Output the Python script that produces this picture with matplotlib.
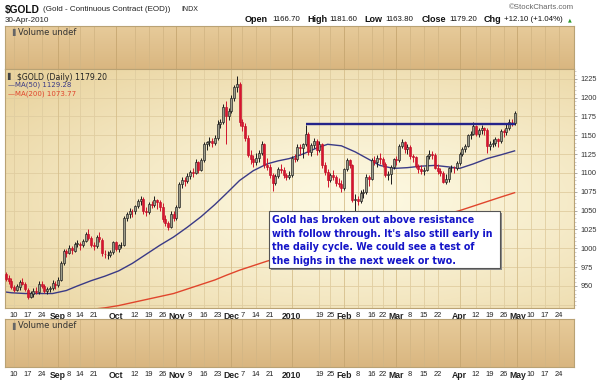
import numpy as np
import pandas as pd
import matplotlib
matplotlib.use("Agg")
import matplotlib.pyplot as plt
from matplotlib.patches import Rectangle

# ---------------- data ----------------
holidays = ["2009-09-07", "2009-11-26", "2009-12-25", "2010-01-01",
            "2010-01-18", "2010-02-15", "2010-04-02", "2010-05-31"]
first_day = "2009-08-05"
last_day = "2010-04-30"

opens = [966, 960, 957, 948, 945, 949, 955, 953, 945, 936,
         940, 944, 942, 953, 950, 944, 946, 947, 953, 951,
         958, 980, 996, 994, 1000, 997, 1006, 1006, 1004, 1010,
         1019, 1014, 1004, 1003, 1015, 1011, 993, 991, 991, 995,
         1008, 999, 1004, 1005, 1040, 1045, 1050, 1049, 1056, 1063,
         1066, 1050, 1048, 1059, 1057, 1064, 1061, 1055, 1039, 1033,
         1028, 1046, 1040, 1055, 1085, 1090, 1089, 1096, 1101, 1100,
         1114, 1104, 1117, 1138, 1141, 1142, 1140, 1146, 1165, 1168,
         1187, 1176, 1182, 1200, 1214, 1218, 1168, 1162, 1146, 1124,
         1118, 1114, 1120, 1127, 1138, 1110, 1108, 1097, 1087, 1096,
         1105, 1104, 1097, 1094, 1097, 1120, 1118, 1135, 1133, 1138,
         1152, 1128, 1137, 1143, 1130, 1138, 1110, 1101, 1090, 1097,
         1095, 1086, 1085, 1080, 1105, 1117, 1110, 1064, 1066, 1063,
         1073, 1075, 1095, 1092, 1117, 1115, 1120, 1118, 1112, 1097,
         1098, 1108, 1118, 1117, 1136, 1141, 1132, 1135, 1122, 1121,
         1109, 1105, 1102, 1104, 1122, 1125, 1124, 1107, 1103, 1100,
         1088, 1092, 1106, 1107, 1106, 1113, 1125, 1132, 1136, 1150,
         1152, 1162, 1152, 1157, 1159, 1157, 1136, 1138, 1140, 1145,
         1142, 1155, 1154, 1160, 1168, 1166.7]
highs = [969, 965, 960, 951, 952, 958, 961, 955, 947, 944,
         947, 949, 956, 957, 952, 948, 950, 958, 957, 962,
         983, 999, 999, 1004, 1003, 1009, 1011, 1009, 1013, 1022,
         1025, 1016, 1009, 1018, 1021, 1014, 998, 996, 998, 1010,
         1010, 1006, 1008, 1043, 1048, 1053, 1052, 1058, 1066, 1070,
         1068, 1055, 1062, 1063, 1070, 1066, 1064, 1060, 1044, 1036,
         1049, 1050, 1058, 1088, 1095, 1094, 1100, 1104, 1106, 1118,
         1116, 1120, 1141, 1143, 1148, 1146, 1150, 1170, 1172, 1191,
         1195, 1186, 1203, 1217, 1228, 1221, 1172, 1166, 1150, 1131,
         1124, 1126, 1131, 1143, 1140, 1120, 1112, 1100, 1099, 1108,
         1112, 1108, 1100, 1103, 1122, 1125, 1138, 1138, 1140, 1163,
         1154, 1140, 1146, 1145, 1142, 1140, 1114, 1105, 1100, 1104,
         1097, 1093, 1090, 1107, 1120, 1119, 1112, 1072, 1070, 1078,
         1079, 1098, 1097, 1120, 1122, 1124, 1126, 1121, 1114, 1102,
         1110, 1120, 1122, 1139, 1145, 1143, 1138, 1137, 1125, 1123,
         1112, 1110, 1108, 1124, 1130, 1129, 1126, 1112, 1106, 1102,
         1099, 1108, 1110, 1109, 1116, 1128, 1135, 1139, 1152, 1155,
         1167, 1164, 1160, 1163, 1161, 1159, 1142, 1145, 1148, 1147,
         1158, 1158, 1165, 1171, 1172, 1181.6]
lows = [957, 953, 946, 942, 943, 945, 951, 943, 933, 934,
        935, 940, 940, 947, 941, 940, 942, 945, 946, 948,
        956, 978, 988, 992, 993, 995, 1002, 998, 1002, 1008,
        1011, 1002, 998, 1001, 1008, 990, 987, 986, 988, 992,
        996, 995, 1000, 1003, 1036, 1040, 1041, 1046, 1053, 1058,
        1046, 1043, 1046, 1053, 1055, 1052, 1050, 1035, 1030, 1024,
        1027, 1036, 1038, 1053, 1080, 1083, 1086, 1092, 1095, 1098,
        1100, 1102, 1115, 1130, 1136, 1134, 1137, 1144, 1159, 1165,
        1138, 1170, 1180, 1196, 1208, 1162, 1155, 1142, 1121, 1112,
        1108, 1110, 1115, 1124, 1106, 1104, 1093, 1076, 1084, 1093,
        1100, 1093, 1090, 1092, 1095, 1114, 1116, 1124, 1120, 1136,
        1124, 1123, 1133, 1124, 1128, 1106, 1097, 1082, 1088, 1090,
        1083, 1081, 1075, 1078, 1102, 1106, 1062, 1048, 1057, 1060,
        1067, 1072, 1083, 1090, 1110, 1108, 1112, 1108, 1094, 1090,
        1085, 1105, 1111, 1115, 1133, 1127, 1125, 1119, 1115, 1106,
        1100, 1098, 1097, 1102, 1118, 1118, 1105, 1098, 1096, 1086,
        1085, 1088, 1101, 1100, 1104, 1111, 1122, 1128, 1134, 1145,
        1150, 1149, 1148, 1152, 1150, 1127, 1131, 1134, 1136, 1135,
        1140, 1148, 1150, 1157, 1162, 1163.8]
closes = [959, 956, 948, 945, 950, 955, 953, 946, 936, 941,
          944, 942, 953, 950, 944, 946, 947, 954, 951, 958,
          980, 996, 994, 1000, 998, 1006, 1007, 1004, 1010, 1019,
          1014, 1005, 1003, 1015, 1012, 994, 992, 991, 995, 1008,
          999, 1004, 1005, 1040, 1045, 1050, 1049, 1056, 1063, 1066,
          1050, 1048, 1059, 1057, 1064, 1061, 1055, 1039, 1033, 1028,
          1046, 1040, 1055, 1085, 1090, 1089, 1096, 1101, 1100, 1114,
          1104, 1117, 1138, 1141, 1142, 1140, 1146, 1165, 1168, 1187,
          1176, 1182, 1200, 1214, 1218, 1168, 1162, 1146, 1124, 1118,
          1114, 1120, 1127, 1138, 1110, 1108, 1097, 1087, 1096, 1105,
          1104, 1097, 1094, 1097, 1120, 1118, 1135, 1133, 1138, 1152,
          1128, 1137, 1143, 1130, 1138, 1110, 1101, 1090, 1097, 1095,
          1086, 1085, 1080, 1105, 1117, 1110, 1064, 1066, 1063, 1073,
          1075, 1095, 1092, 1117, 1115, 1120, 1118, 1112, 1097, 1098,
          1108, 1118, 1117, 1136, 1141, 1132, 1135, 1122, 1121, 1109,
          1105, 1102, 1104, 1122, 1125, 1124, 1107, 1103, 1100, 1088,
          1092, 1106, 1107, 1106, 1113, 1125, 1132, 1136, 1150, 1152,
          1162, 1152, 1157, 1159, 1157, 1136, 1138, 1140, 1145, 1142,
          1155, 1154, 1160, 1168, 1167, 1179.2]

ma_dates = ["2009-08-05", "2009-08-07", "2009-08-14", "2009-08-21", "2009-08-28",
            "2009-09-04", "2009-09-11", "2009-09-18", "2009-09-25", "2009-10-02",
            "2009-10-09", "2009-10-16", "2009-10-23", "2009-10-30", "2009-11-06",
            "2009-11-13", "2009-11-20", "2009-11-27", "2009-12-04", "2009-12-11",
            "2009-12-18", "2009-12-24", "2009-12-31", "2010-01-08", "2010-01-15",
            "2010-01-22", "2010-01-29", "2010-02-05", "2010-02-12", "2010-02-19",
            "2010-02-26", "2010-03-05", "2010-03-12", "2010-03-19", "2010-03-26",
            "2010-04-01", "2010-04-09", "2010-04-16", "2010-04-23", "2010-04-30"]
ma50 = [942, 941, 940, 940, 940, 944, 950, 957, 963, 970,
        980, 992, 1004, 1015, 1028, 1042, 1058, 1072, 1090, 1103,
        1112, 1116, 1119, 1125, 1133, 1138, 1136, 1128, 1118, 1110,
        1106, 1107, 1109, 1110, 1108, 1106, 1112, 1119, 1124, 1129.28]
ma200 = [906, 907, 909, 911, 913, 915, 917, 919, 921, 924,
         928, 932, 936, 940, 946, 952, 958, 964, 971, 977,
         983, 987, 991, 996, 1001, 1005, 1009, 1013, 1017, 1021,
         1026, 1031, 1036, 1041, 1046, 1050, 1056, 1062, 1068, 1073.77]

resistance_level = 1165
resistance_start = "2010-01-11"
resistance_end = "2010-04-30"

tick_dates = ["2009-08-10", "2009-08-17", "2009-08-24", "2009-09-01", "2009-09-08",
              "2009-09-14", "2009-09-21", "2009-10-01", "2009-10-12", "2009-10-19",
              "2009-10-26", "2009-11-02", "2009-11-09", "2009-11-16", "2009-11-23",
              "2009-12-01", "2009-12-07", "2009-12-14", "2009-12-21", "2010-01-04",
              "2010-01-19", "2010-01-25", "2010-02-01", "2010-02-08", "2010-02-16",
              "2010-02-22", "2010-03-01", "2010-03-08", "2010-03-15", "2010-03-22",
              "2010-04-01", "2010-04-12", "2010-04-19", "2010-04-26", "2010-05-03",
              "2010-05-10", "2010-05-17", "2010-05-24"]
tick_labels = ["10", "17", "24", "Sep", "8", "14", "21", "Oct", "12", "19",
               "26", "Nov", "9", "16", "23", "Dec", "7", "14", "21", "2010",
               "19", "25", "Feb", "8", "16", "22", "Mar", "8", "15", "22",
               "Apr", "12", "19", "26", "May", "10", "17", "24"]
major_labels = ["Sep", "Oct", "Nov", "Dec", "2010", "Feb", "Mar", "Apr", "May"]

price_ticks = [950, 975, 1000, 1025, 1050, 1075, 1100, 1125, 1150, 1175, 1200, 1225]

note_lines = ["Gold has broken out above resistance",
              "with follow through. It's also still early in",
              "the daily cycle. We could see a test of",
              "the highs in the next week or two."]

# ---------------- calendar / positions ----------------
cal = pd.bdate_range("2009-08-03", "2010-06-30")
cal = cal[~cal.isin(pd.to_datetime(holidays))]
origin = int(np.where(cal == pd.Timestamp("2009-08-10"))[0][0])


def pos(d):
    return int(np.where(cal == pd.Timestamp(d))[0][0]) - origin


day_mask = (cal >= pd.Timestamp(first_day)) & (cal <= pd.Timestamp(last_day))
x = np.array([pos(d) for d in cal[day_mask]], dtype=float)
o = np.array(opens, float); h = np.array(highs, float)
l = np.array(lows, float); c = np.array(closes, float)
assert len(x) == len(o) == len(h) == len(l) == len(c)

W, H = 600, 381
fig = plt.figure(figsize=(W / 100, H / 100), dpi=100)
fig.patch.set_facecolor("white")


def fbox(left, top, right, bottom):
    return [left / W, 1 - bottom / H, (right - left) / W, (bottom - top) / H]


XMIN, XMAX = -3.3, 203.6
YMIN, YMAX = 920.8, 1237.9

ax_v1 = fig.add_axes(fbox(5, 26, 574, 69))
ax = fig.add_axes(fbox(5, 69, 574, 308))
ax_v2 = fig.add_axes(fbox(5, 319, 574, 367))

edge_col = "#b9a274"


def radial_bg(a):
    n = 240
    yy, xx = np.mgrid[0:1:n * 1j, 0:1:n * 1j]
    d = np.sqrt(((xx - 0.62) / 0.8) ** 2 + ((yy - 0.45) / 0.75) ** 2)
    d = np.clip(d, 0, 1) ** 1.3
    c0 = np.array([253, 249, 226]) / 255
    c1 = np.array([233, 211, 158]) / 255
    img = c0 + (c1 - c0) * d[..., None]
    a.imshow(img, extent=[0, 1, 0, 1], transform=a.transAxes, aspect="auto",
             zorder=0, origin="lower", interpolation="bilinear")


def vol_bg(a):
    n = 100
    yy = np.linspace(0, 1, n)[:, None] * np.ones((1, 4))
    c0 = np.array([217, 182, 128]) / 255
    c1 = np.array([231, 203, 154]) / 255
    img = c0 + (c1 - c0) * yy[..., None]
    a.imshow(img, extent=[0, 1, 0, 1], transform=a.transAxes, aspect="auto",
             zorder=0, origin="lower", interpolation="bilinear")


tick_pos = [pos(d) for d in tick_dates]

for a in (ax_v1, ax_v2):
    vol_bg(a)
    for tp, tl in zip(tick_pos, tick_labels):
        a.axvline(tp, color="#c6a670" if tl in major_labels else "#d3b684",
                  lw=0.6, zorder=1)
    a.set_xlim(XMIN, XMAX)
    a.set_ylim(0, 1)
    a.set_yticks([])
    for s in a.spines.values():
        s.set_color(edge_col)
        s.set_linewidth(0.8)
    a.text(0.012, 0.93, "\u258c", transform=a.transAxes, fontsize=5,
           color="#666", va="top", ha="left")
    a.text(0.022, 0.95, "Volume undef", transform=a.transAxes, fontsize=6,
           family="DejaVu Sans", color="#333", va="top", ha="left")

ax_v1.set_xticks([])

# main panel
radial_bg(ax)
for yv in range(925, 1250, 25):
    ax.axhline(yv, color="#e0cda0", lw=0.6, zorder=1)
for tp, tl in zip(tick_pos, tick_labels):
    ax.axvline(tp, color="#d6bf8c" if tl in major_labels else "#e0cda0",
               lw=0.6, zorder=1)

# moving averages
mx = [pos(d) for d in ma_dates]
ax.plot(mx, ma200, color="#e0452c", lw=1.0, zorder=2)
ax.plot(mx, ma50, color="#3a3a86", lw=1.0, zorder=2)

# candles
up = c >= o
wick_col = np.where(up, "#1a1a1a", "#d0142c")
ax.vlines(x, l, h, colors=wick_col, lw=0.7, zorder=3)
bw = 0.72
ax.bar(x[up], np.maximum(c[up] - o[up], 0.6), bottom=o[up], width=bw,
       facecolor="#9d9d8c", edgecolor="#1a1a1a", lw=0.45, zorder=4)
ax.bar(x[~up], np.maximum(o[~up] - c[~up], 0.6), bottom=c[~up], width=bw,
       facecolor="#d8142e", edgecolor="#c0102a", lw=0.45, zorder=4)

# resistance line
ax.plot([pos(resistance_start), pos(resistance_end)],
        [resistance_level, resistance_level], color="#24248a", lw=1.7,
        zorder=5, solid_capstyle="butt")

ax.set_xlim(XMIN, XMAX)
ax.set_ylim(YMIN, YMAX)
ax.yaxis.tick_right()
ax.set_yticks(price_ticks)
ax.set_yticklabels([str(v) for v in price_ticks])
ax.set_yticks(np.arange(925, 1240, 5), minor=True)
ax.tick_params(axis="y", which="major", length=2.5, width=0.6, color="#999",
               labelsize=5.3, labelcolor="#333", pad=2)
ax.tick_params(axis="y", which="minor", length=1.2, width=0.4, color="#aaa")
for lab in ax.get_yticklabels():
    lab.set_family("Liberation Sans")
for s in ax.spines.values():
    s.set_color(edge_col)
    s.set_linewidth(0.8)


def set_xlabels(a):
    a.set_xticks(tick_pos)
    a.set_xticklabels(tick_labels)
    a.tick_params(axis="x", length=0, pad=3, labelsize=5.4, labelcolor="#222")
    for lab in a.get_xticklabels():
        lab.set_family("Liberation Sans")
        if lab.get_text() in major_labels:
            lab.set_fontweight("bold")
            lab.set_fontsize(6.2)


set_xlabels(ax)
set_xlabels(ax_v2)

# legend text in main panel
ax.text(0.004, 0.985, "\u258c", transform=ax.transAxes, fontsize=5, color="#444",
        va="top", ha="left")
ax.text(0.021, 0.985, "$GOLD (Daily) 1179.20", transform=ax.transAxes,
        fontsize=5.6, family="DejaVu Sans", color="#222", va="top", ha="left")
ax.text(0.004, 0.946, "\u2014", transform=ax.transAxes, fontsize=5,
        color="#3a3a86", va="top", ha="left", family="DejaVu Sans")
ax.text(0.018, 0.946, "MA(50) 1129.28", transform=ax.transAxes,
        fontsize=5.0, family="DejaVu Sans", color="#3a3a86", va="top", ha="left")
ax.text(0.004, 0.908, "\u2014", transform=ax.transAxes, fontsize=5,
        color="#e0452c", va="top", ha="left", family="DejaVu Sans")
ax.text(0.018, 0.908, "MA(200) 1073.77", transform=ax.transAxes,
        fontsize=5.0, family="DejaVu Sans", color="#e0452c", va="top", ha="left")

# header
def ftext(px, py, s, **kw):
    fig.text(px / W, 1 - py / H, s, **kw)


ftext(5, 10, "$GOLD", fontsize=7.4, fontweight="bold", family="Liberation Sans",
      color="#111", va="center", ha="left")
ftext(43, 9.5, "(Gold - Continuous Contract (EOD))", fontsize=5.8,
      family="Liberation Sans", color="#222", va="center", ha="left")
ftext(181, 9.5, "INDX", fontsize=5.0, family="Liberation Sans", color="#222",
      va="center", ha="left")
ftext(5, 20, "30-Apr-2010", fontsize=5.8, family="Liberation Sans", color="#222",
      va="center", ha="left")
ftext(574, 7.5, "\u00a9StockCharts.com", fontsize=5.6, family="Liberation Sans",
      color="#666", va="center", ha="right")

hdr = [(245, "Open", True), (272, "1166.70", False), (307, "High", True),
       (329, "1181.60", False), (364, "Low", True), (385, "1163.80", False),
       (422, "Close", True), (449, "1179.20", False), (484, "Chg", True),
       (504, "+12.10 (+1.04%)", False)]
for px, s, b in hdr:
    ftext(px, 19.5, s, fontsize=6.5 if b else 5.7,
          fontweight="bold" if b else "normal", family="Liberation Sans",
          color="#111", va="center", ha="left")
ftext(568, 19.5, "\u25b2", fontsize=3.5, color="#2a9a2a", va="center", ha="left",
      family="DejaVu Sans")

# annotation box
fig.add_artist(Rectangle((271 / W, 1 - 270 / H), 231 / W, 57 / H,
                         transform=fig.transFigure, facecolor="#8a8a8a",
                         edgecolor="none", zorder=9))
fig.add_artist(Rectangle((269 / W, 1 - 268 / H), 231 / W, 57 / H,
                         transform=fig.transFigure, facecolor="white",
                         edgecolor="#555", lw=0.8, zorder=10))
for i, line in enumerate(note_lines):
    ftext(272, 220 + i * 13.7, line, fontsize=6.85, fontweight="bold",
          family="DejaVu Sans", color="#1414c8", va="center", ha="left",
          zorder=11)

fig.savefig("out.png", dpi=100, facecolor="white")
